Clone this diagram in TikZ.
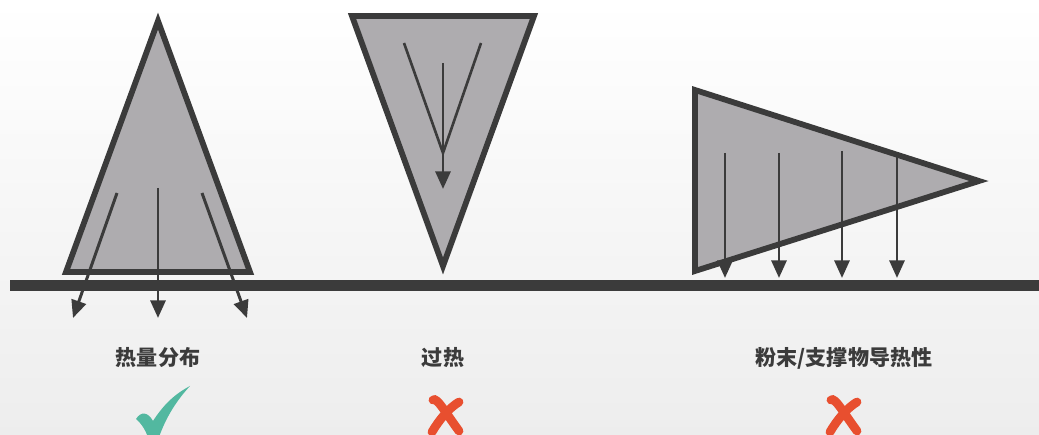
\documentclass[tikz,border=0pt]{standalone}
\usepackage{fontspec}
\newfontfamily\cjk{Noto Sans CJK SC}
\usetikzlibrary{arrows.meta,positioning}
\definecolor{ink}{HTML}{3B3B3B}
\definecolor{cone}{HTML}{AEACAF}
\definecolor{okgreen}{HTML}{52B8A0}
\definecolor{nored}{HTML}{E84F2F}
\tikzset{
  part/.style={draw=ink,fill=cone,line width=3.3pt,line join=miter},
  flow/.style={draw=ink,line width=1.7pt,-{Triangle[length=10pt,width=8.5pt]}},
  fan/.style={draw=ink,line width=1.5pt},
  lbl/.style={font=\cjk\bfseries\fontsize{12}{14}\selectfont,text=ink,inner sep=0pt},
  cross/.style={draw=nored,line width=5pt,line cap=round}
}
\begin{document}
\begin{tikzpicture}[x=0.02cm,y=-0.02cm]

  \useasboundingbox (0,0) rectangle (1039,435);
  \shade[top color=white,bottom color=black!7] (0,0) rectangle (1039,435);

  % parts
  \draw[part] (158,21) -- (66,272) -- (250,272) -- cycle;
  \draw[part] (352,16) -- (534,16) -- (443,266) -- cycle;
  \draw[part] (695,90) -- (695,271) -- (979,181) -- cycle;

  % build plate
  \fill[ink] (10,280) rectangle (1039,291);

  % heat flow, left
  \coordinate (a1) at (117,193);  \coordinate (b1) at (73,318);
  \coordinate (a2) at (158,188);  \coordinate (b2) at (158,318);
  \coordinate (a3) at (202,193);  \coordinate (b3) at (247,318);
  \draw[flow] (a1) -- (b1);
  \draw[flow] (a2) -- (b2);
  \draw[flow] (a3) -- (b3);

  % heat flow, middle
  \coordinate (f1) at (404,43);
  \coordinate (f2) at (481,43);
  \coordinate (fm) at (443,153);
  \coordinate (c1) at (443,63);   \coordinate (d1) at (443,189);
  \draw[fan] (f1) -- (fm) -- (f2);
  \draw[flow] (c1) -- (d1);

  % heat flow, right
  \coordinate (e1) at (725,153);  \coordinate (g1) at (725,278);
  \coordinate (e2) at (779,153);  \coordinate (g2) at (779,278);
  \coordinate (e3) at (842,151);  \coordinate (g3) at (842,278);
  \coordinate (e4) at (897,154);  \coordinate (g4) at (897,278);
  \draw[flow] (e1) -- (g1);
  \draw[flow] (e2) -- (g2);
  \draw[flow] (e3) -- (g3);
  \draw[flow] (e4) -- (g4);

  % labels
  \node[lbl] (L1) at (158,358) {热量分布};
  \node[lbl] (L2) at (443,358) {过热};
  \node[lbl] (L3) at (844,358) {粉末/支撑物导热性};

  % marks
  \fill[okgreen] (136,419) .. controls (141,411) and (148,412) .. (153,421)
    .. controls (164,404) and (175,394) .. (190,386)
    .. controls (178,399) and (166,416) .. (158,440)
    -- (149,440) .. controls (146,431) and (142,424) .. (136,419) -- cycle;
  \draw[cross] (433,400) .. controls (437,397) and (445,412) .. (459,431);
  \draw[cross] (459,402) .. controls (449,408) and (439,420) .. (432,432);
  \draw[cross] (831,400) .. controls (835,397) and (843,412) .. (857,431);
  \draw[cross] (857,402) .. controls (847,408) and (837,420) .. (830,432);

\end{tikzpicture}
\end{document}
